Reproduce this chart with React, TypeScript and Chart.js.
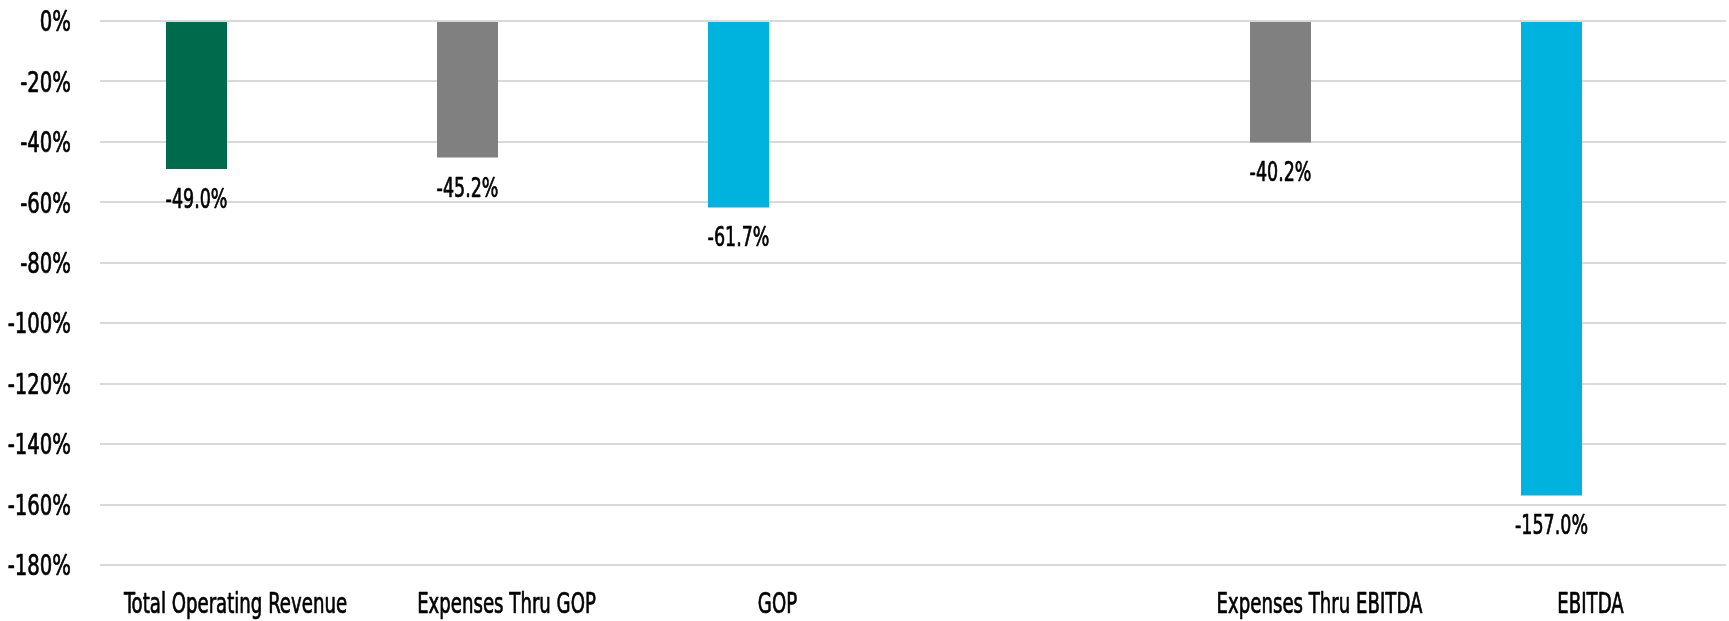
import React, { useEffect, useRef } from "react";
import { Chart, registerables } from "chart.js";

Chart.register(...registerables);

const categories = [
  "Total Operating Revenue",
  "Expenses Thru GOP",
  "GOP",
  "",
  "Expenses Thru EBITDA",
  "EBITDA",
];
const values: (number | null)[] = [-49.0, -45.2, -61.7, null, -40.2, -157.0];
const emptySeries: (number | null)[] = [null, null, null, null, null, null];
const barColors = ["#006A4D", "#808080", "#00B2DE", "#808080", "#808080", "#00B2DE"];
const yMin = -180;
const yMax = 0;
const yStep = 20;

const FONT = "'DejaVu Sans Condensed', 'DejaVu Sans', sans-serif";

function drawCondensed(
  ctx: CanvasRenderingContext2D,
  text: string,
  x: number,
  y: number,
  align: CanvasTextAlign,
  size: number,
  sx: number
) {
  ctx.save();
  ctx.translate(x, y);
  ctx.scale(sx, 1);
  ctx.font = `${size}px ${FONT}`;
  ctx.fillStyle = "#000";
  ctx.strokeStyle = "#000";
  ctx.lineWidth = 0.7;
  ctx.lineJoin = "round";
  ctx.textAlign = align;
  ctx.textBaseline = "alphabetic";
  ctx.fillText(text, 0, 0);
  ctx.strokeText(text, 0, 0);
  ctx.restore();
}

const textPlugin = {
  id: "condensedText",
  afterDraw(chart: any) {
    const ctx = chart.ctx;
    const xs = chart.scales.x;
    const ys = chart.scales.y;
    // y-axis tick labels
    ys.ticks.forEach((t: any) => {
      const py = ys.getPixelForValue(t.value);
      const s = 28;
      drawCondensed(ctx, `${t.value}%`, 71, py + 0.3645 * s, "right", s, 0.78);
    });
    // x-axis category labels
    categories.forEach((c, i) => {
      if (!c) return;
      const px = xs.getPixelForTick(i);
      drawCondensed(ctx, c, px, xs.top + 48, "center", 28, 0.72);
    });
    // value labels
    const meta = chart.getDatasetMeta(0);
    meta.data.forEach((el: any, i: number) => {
      const v = values[i];
      if (v === null || v === undefined) return;
      drawCondensed(ctx, `${v.toFixed(1)}%`, el.x, el.y + 39, "center", 27, 0.72);
    });
  },
};

export default function App() {
  const ref = useRef<HTMLCanvasElement | null>(null);
  useEffect(() => {
    if (!ref.current) return;
    const chart = new Chart(ref.current, {
      type: "bar",
      data: {
        labels: categories,
        datasets: [
          {
            label: "Change",
            data: values,
            backgroundColor: barColors,
            categoryPercentage: 0.5756,
            barPercentage: 0.782,
          },
          {
            label: "",
            data: emptySeries,
            backgroundColor: "rgba(0,0,0,0)",
            categoryPercentage: 0.5756,
            barPercentage: 0.782,
          },
        ],
      },
      options: {
        animation: false,
        responsive: true,
        maintainAspectRatio: false,
        layout: { padding: { left: 0, right: 3, top: 21, bottom: 0 } },
        plugins: {
          legend: { display: false },
          tooltip: { enabled: false },
        },
        scales: {
          x: {
            grid: { display: false, drawTicks: false },
            border: { display: false },
            ticks: { display: false, autoSkip: false },
            afterFit(scale: any) {
              scale.height = 56;
            },
          },
          y: {
            min: yMin,
            max: yMax,
            grid: { color: "#d9d9d9", lineWidth: 2, drawTicks: false },
            border: { display: false },
            ticks: { stepSize: yStep, display: false },
            afterFit(scale: any) {
              scale.width = 100;
            },
          },
        },
      },
      plugins: [textPlugin],
    });
    return () => chart.destroy();
  }, []);
  return (
    <div style={{ position: "fixed", left: 0, top: 0, width: 1729, height: 621, background: "#fff" }}>
      <canvas ref={ref} />
    </div>
  );
}
